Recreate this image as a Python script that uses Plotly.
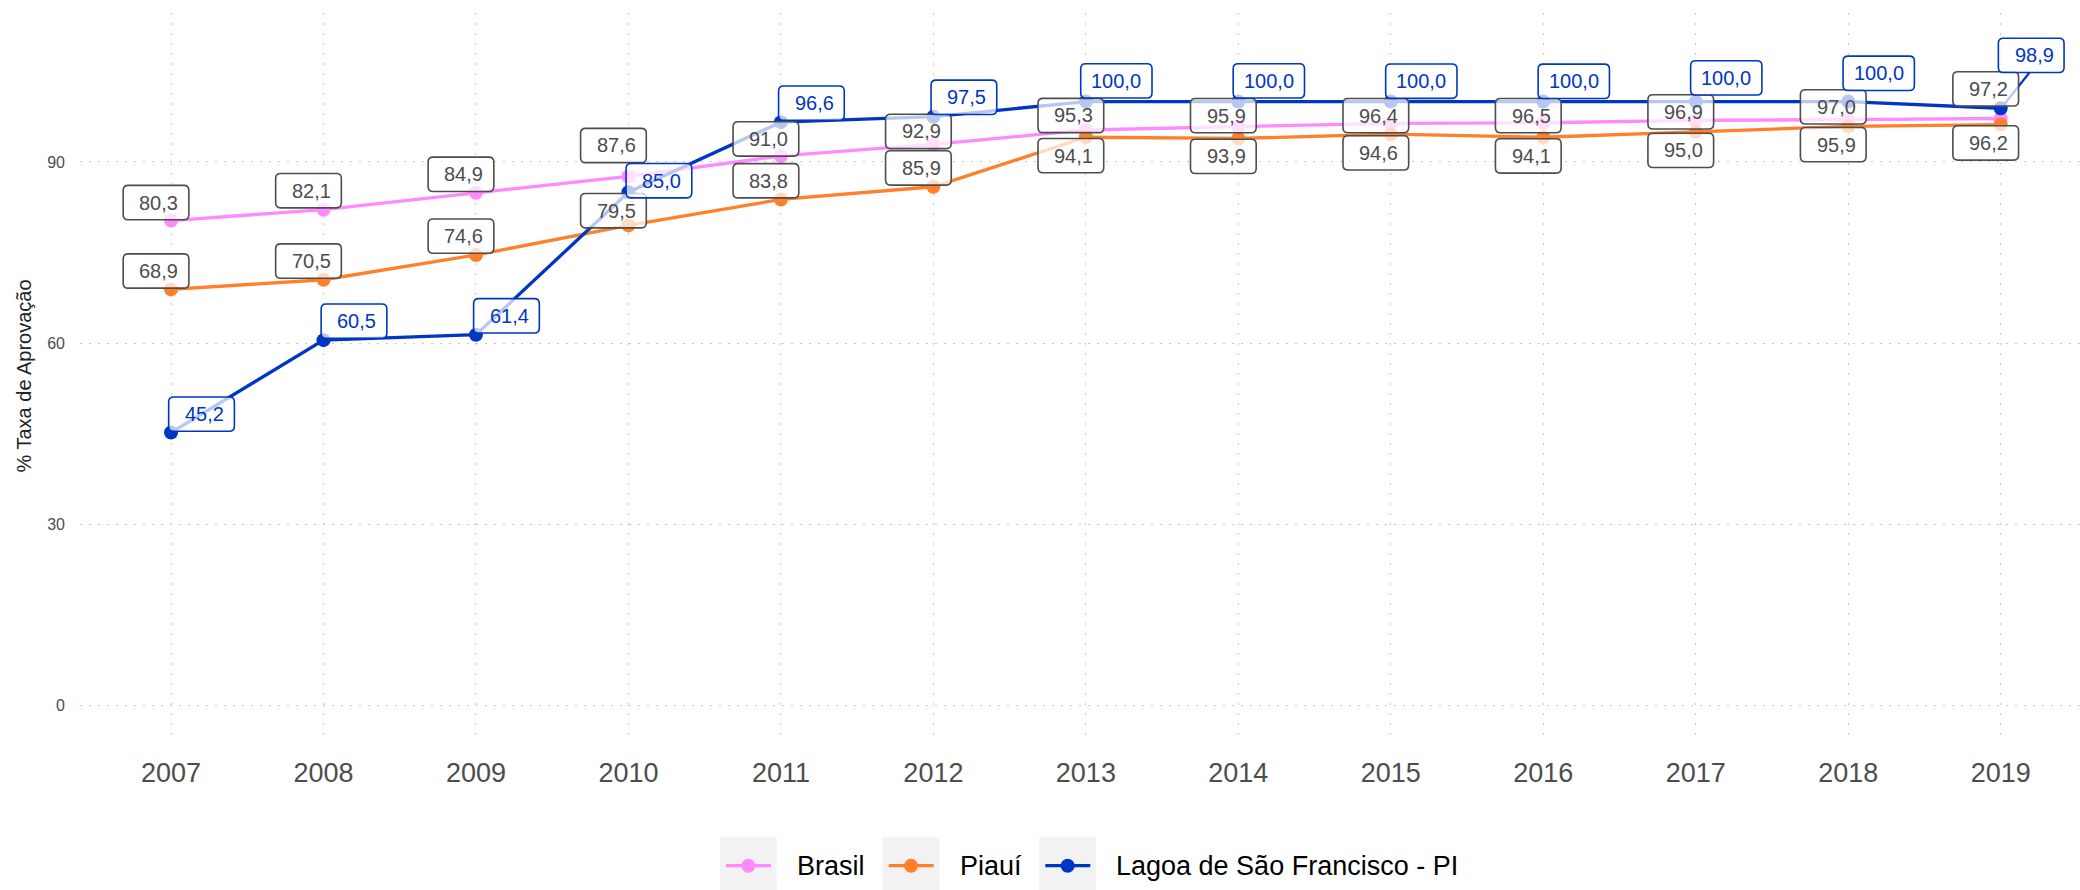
import plotly.graph_objects as go

# Taxa de aprovação (%) — anos iniciais
anos = [2007, 2008, 2009, 2010, 2011, 2012, 2013, 2014, 2015, 2016, 2017, 2018, 2019]
brasil = [80.3, 82.1, 84.9, 87.6, 91.0, 92.9, 95.3, 95.9, 96.4, 96.5, 96.9, 97.0, 97.2]
piaui = [68.9, 70.5, 74.6, 79.5, 83.8, 85.9, 94.1, 93.9, 94.6, 94.1, 95.0, 95.9, 96.2]
lagoa = [45.2, 60.5, 61.4, 85.0, 96.6, 97.5, 100.0, 100.0, 100.0, 100.0, 100.0, 100.0, 98.9]

nomes = ["Brasil", "Piauí", "Lagoa de São Francisco - PI"]
cores = ["#FF8AFF", "#FF7F2A", "#0036C4"]
cor_rotulo = ["#4D4D4D", "#4D4D4D", "#0036C4"]

# label placement (pixel offsets of the box centre from each point; + is up)
desloc_x = [-15, -15, 30.5]
desloc_y = [
    [18, 19, 18.5, 31, 17, 13, 14.5, 10.7, 7.7, 7.1, 8.4, 12.8, 29.6],
    [18.4, 18.7, 18.9, 14.7, 18.7, 18.8, -18.4, -17.9, -18.7, -18.7, -18.6, -18.3, -18.4],
    [18.4, 19, 18.9, 11.5, 19, 19.4, 20.7, 20.7, 20.4, 20.3, 23.7, 28.3, 52.9],
]

FONTE = "Liberation Sans, Arial, Helvetica, sans-serif"
W, H = 2080, 890
ML, MR, MT, MB = 80, 0, 13, 150
PW, PH = W - ML - MR, H - MT - MB

series = [brasil, piaui, lagoa]

fig = go.Figure()
for nome, cor, vals in zip(nomes, cores, series):
    fig.add_trace(go.Scatter(
        x=anos, y=vals, name=nome, mode="lines+markers",
        line=dict(color=cor, width=3.3),
        marker=dict(color=cor, size=14),
        showlegend=False,
    ))


def caixa(cx, cy, w, h, r=5):
    x0, x1 = cx - w / 2, cx + w / 2
    y0, y1 = cy - h / 2, cy + h / 2
    return (f"M{x0 + r},{y0} L{x1 - r},{y0} Q{x1},{y0} {x1},{y0 + r} "
            f"L{x1},{y1 - r} Q{x1},{y1} {x1 - r},{y1} L{x0 + r},{y1} "
            f"Q{x0},{y1} {x0},{y1 - r} L{x0},{y0 + r} Q{x0},{y0} {x0 + r},{y0} Z")


def fmt(v):
    return f"{v:.1f}".replace(".", ",")


shapes = []
annotations = []

# leader segment for the last Lagoa label
shapes.append(dict(
    type="line", xref="x", yref="y", xsizemode="pixel", ysizemode="pixel",
    xanchor=anos[-1], yanchor=lagoa[-1], x0=2, y0=2, x1=29, y1=36,
    line=dict(color=cores[2], width=2.2), layer="above",
))

for s, vals in enumerate(series):
    for i, (ano, v) in enumerate(zip(anos, vals)):
        txt = fmt(v)
        largo = len(txt) >= 5
        w = 71.3 if largo else 65.7
        cx, cy = desloc_x[s], desloc_y[s][i]
        shapes.append(dict(
            type="path", xref="x", yref="y", xsizemode="pixel", ysizemode="pixel",
            xanchor=ano, yanchor=v, path=caixa(cx, cy, w, 34.3),
            fillcolor="rgba(255,255,255,0.72)",
            line=dict(color=cor_rotulo[s], width=1.6), layer="above",
        ))
        annotations.append(dict(
            x=ano, y=v, xref="x", yref="y", text=txt, showarrow=False,
            xanchor="center", yanchor="middle",
            xshift=cx + (0 if largo else 2.8), yshift=cy,
            font=dict(family=FONTE, size=20, color=cor_rotulo[s]),
        ))


def px_x(p):
    return (p - ML) / PW


def px_y(p):
    return (H - MB - p) / PH


# legend row below the plot
chave_esq = [720, 882.7, 1039.3]
texto_esq = [795, 958.3, 1114]
leg_y = 865.7
for nome, cor, kx, tx in zip(nomes, cores, chave_esq, texto_esq):
    shapes.append(dict(type="rect", xref="paper", yref="paper",
                       x0=px_x(kx), x1=px_x(kx + 56.7), y0=px_y(837.3), y1=px_y(894),
                       fillcolor="#F2F2F2", line=dict(width=0), layer="above"))
    shapes.append(dict(type="line", xref="paper", yref="paper",
                       x0=px_x(kx + 6), x1=px_x(kx + 51), y0=px_y(leg_y), y1=px_y(leg_y),
                       line=dict(color=cor, width=3.3), layer="above"))
    cxk = kx + 28.35
    shapes.append(dict(type="circle", xref="paper", yref="paper",
                       x0=px_x(cxk - 7), x1=px_x(cxk + 7),
                       y0=px_y(leg_y + 7), y1=px_y(leg_y - 7),
                       fillcolor=cor, line=dict(width=0), layer="above"))
    annotations.append(dict(x=px_x(tx), y=px_y(leg_y), xref="paper", yref="paper",
                            text=nome, showarrow=False, xanchor="left", yanchor="middle",
                            font=dict(family=FONTE, size=27, color="#000000")))

# y-axis title
annotations.append(dict(x=px_x(23), y=0.5, xref="paper", yref="paper",
                        text="% Taxa de Aprovação", textangle=-90, showarrow=False,
                        xanchor="center", yanchor="middle",
                        font=dict(family=FONTE, size=20, color="#222222")))

fig.update_layout(
    width=W, height=H, autosize=False,
    margin=dict(l=ML, r=MR, t=MT, b=MB),
    paper_bgcolor="white", plot_bgcolor="white",
    font=dict(family=FONTE),
    shapes=shapes, annotations=annotations,
    showlegend=False,
)
fig.update_xaxes(
    range=[2006.403, 2019.52], tickvals=anos, ticktext=[str(a) for a in anos],
    showgrid=True, gridcolor="#C8C8C8", griddash="2px,8px", gridwidth=1.2,
    zeroline=False, showline=False, ticks="",
    tickfont=dict(family=FONTE, size=27, color="#4D4D4D"),
    ticklabelstandoff=14,
)
fig.update_yaxes(
    range=[-5.71, 114.67], tickvals=[0, 30, 60, 90],
    showgrid=True, gridcolor="#C8C8C8", griddash="2px,7px", gridwidth=1.2,
    zeroline=False, showline=False, ticks="",
    tickfont=dict(family=FONTE, size=16, color="#4D4D4D"),
    ticklabelstandoff=14,
)

fig.write_html("out.html")
